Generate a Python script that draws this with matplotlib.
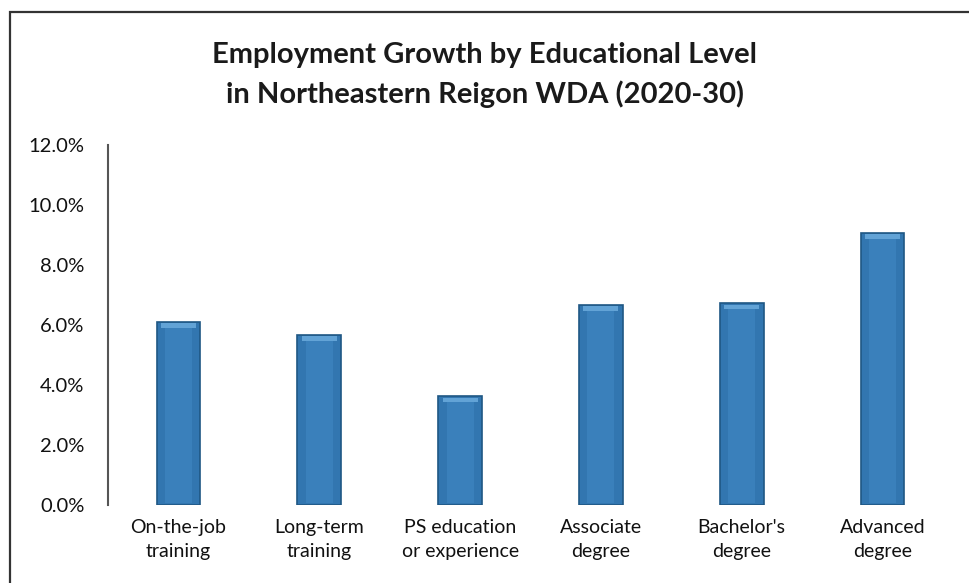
import matplotlib
matplotlib.use("Agg")
import matplotlib.pyplot as plt
from matplotlib.patches import Rectangle
from matplotlib.ticker import FuncFormatter, MultipleLocator

categories = ["On-the-job\ntraining", "Long-term\ntraining", "PS education\nor experience",
              "Associate\ndegree", "Bachelor's\ndegree", "Advanced\ndegree"]
values = [6.1, 5.68, 3.62, 6.68, 6.72, 9.07]
title = "Employment Growth by Educational Level\nin Northeastern Reigon WDA (2020-30)"

plt.rcParams['font.family'] = ['Lato', 'DejaVu Sans']

fig = plt.figure(figsize=(9.7, 5.83), dpi=100)
ax = fig.add_axes([108/970, 1-505/583, (953-108)/970, (505-145)/583])

x = list(range(len(categories)))
w = 0.31
ax.bar(x, values, width=w, color='#3276b0', edgecolor='#1f5784', linewidth=1.2, zorder=2)
# inner face for bevel look
ax.bar(x, [v - 0.24 for v in values], bottom=0.08, width=w*0.62, color='#3a80bb',
       edgecolor='none', zorder=3)
# lighter top cap
ax.bar(x, [0.16]*len(values), bottom=[v - 0.2 for v in values], width=w*0.8,
       color='#62a3d6', edgecolor='none', zorder=3)

ax.set_xlim(-0.5, len(categories) - 0.5)
ax.set_ylim(0, 12)
ax.yaxis.set_major_locator(MultipleLocator(2))
ax.yaxis.set_major_formatter(FuncFormatter(lambda v, p: f"{v:.1f}%"))
ax.set_xticks(x)
ax.set_xticklabels(categories, fontsize=14, linespacing=1.5, color='#111111')
ax.tick_params(axis='x', length=0, pad=10)
ax.tick_params(axis='y', length=0, pad=17, labelsize=14.5, labelcolor='#111111')
for s in ['top', 'right', 'bottom']:
    ax.spines[s].set_visible(False)
ax.spines['left'].set_color('#555555')
ax.spines['left'].set_linewidth(1.5)

fig.text(485/970, 1-75/583, title, ha='center', va='center', fontsize=21,
         fontweight='bold', linespacing=1.55, color='#1a1a1a')

# outer frame
fig.patches.append(Rectangle((10/970, -0.05), 1.1, 1 - 12/583 + 0.05,
                             transform=fig.transFigure, fill=False,
                             edgecolor='#333333', linewidth=1.6))

fig.savefig("out.png", dpi=100)
